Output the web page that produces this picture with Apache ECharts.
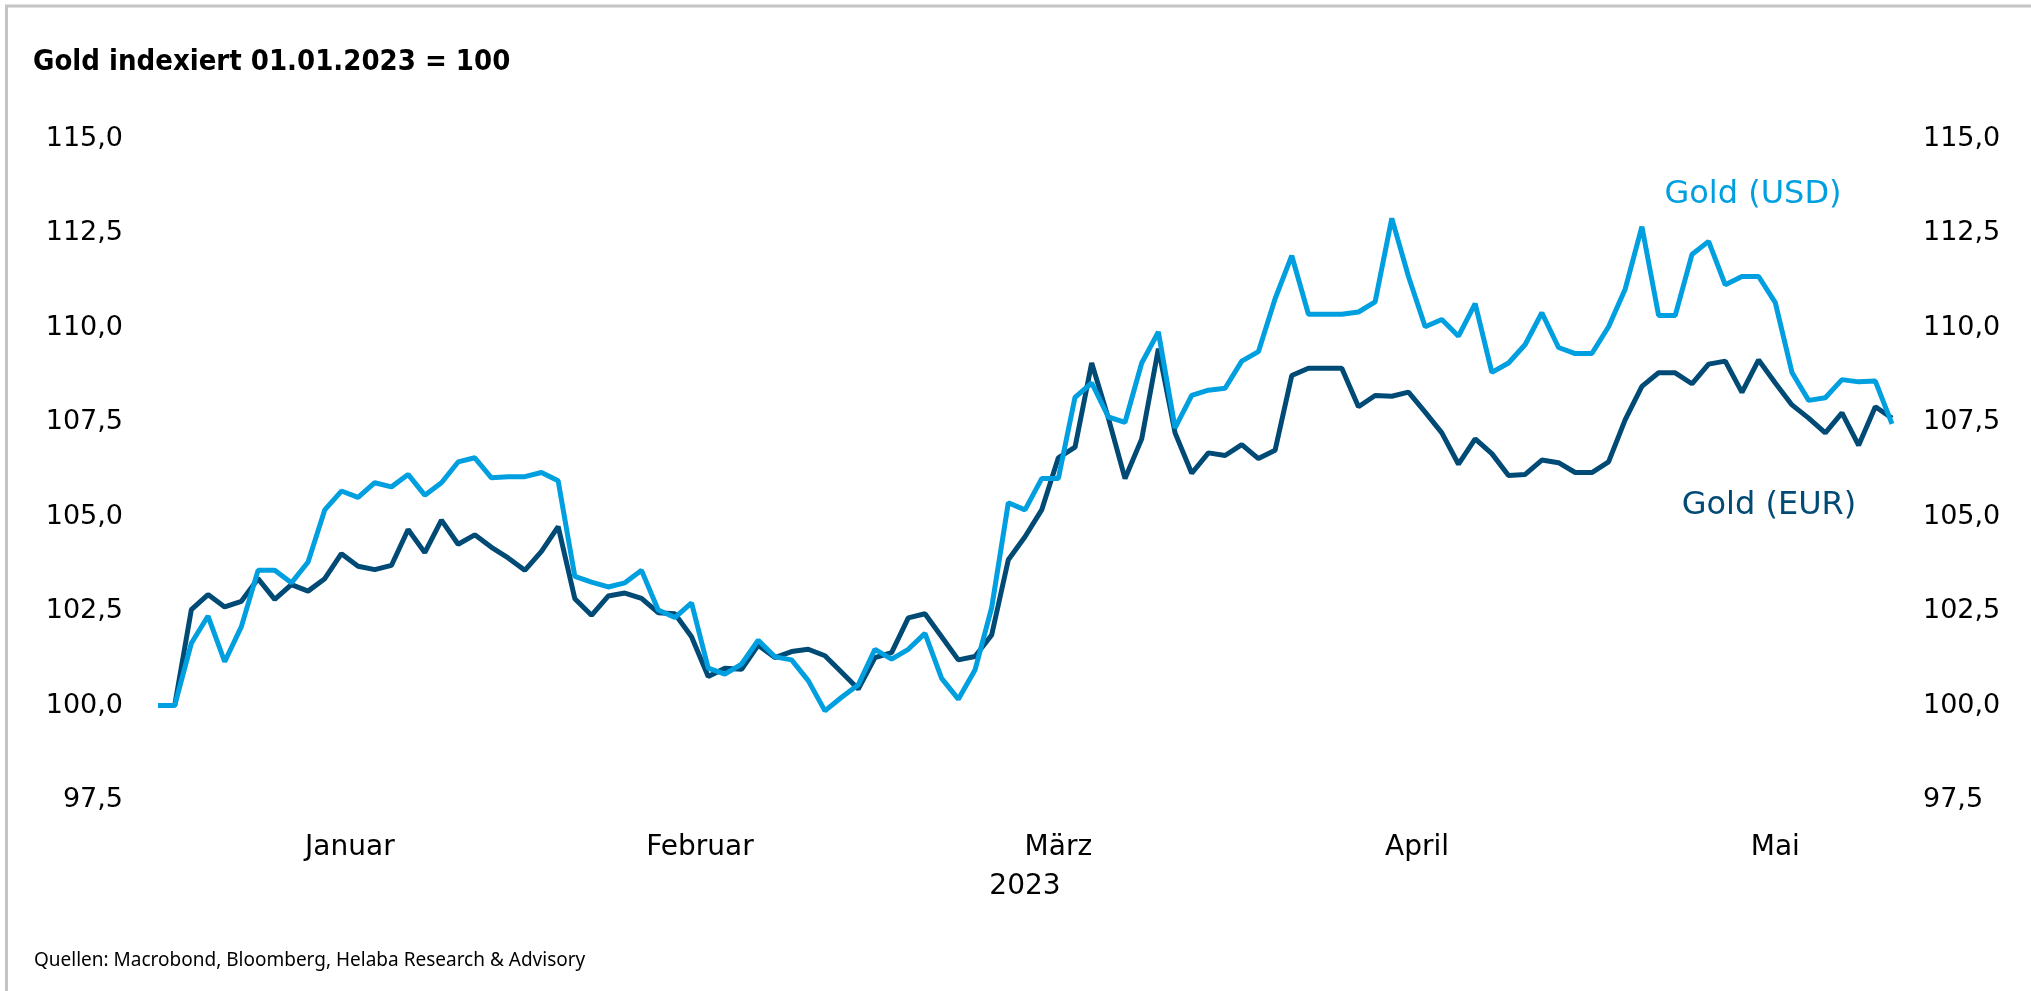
<!DOCTYPE html>
<html>
<head>
<meta charset="utf-8">
<title>Gold indexiert 01.01.2023 = 100</title>
<script src="https://cdn.jsdelivr.net/npm/echarts@6/dist/echarts.min.js"></script>
<style>
html, body { margin: 0; padding: 0; background: #fff; }
#goldchart { width: 2031px; height: 991px; }
</style>
</head>
<body>
<div id="goldchart"></div>
<script>
// Handelstage 30.12.2022 - 25.05.2023
var startDate = '2022-12-30';
var endDate = '2023-05-25';
var monthNames = ['Januar', 'Februar', 'März', 'April', 'Mai'];
var yMin = 97.5;
var yMax = 115;
var yStep = 2.5;

var goldEur = [
  100.0, 100.0, 102.54, 102.94, 102.61, 102.76, 103.36, 102.81, 103.20, 103.03,
  103.36, 104.02, 103.69, 103.60, 103.71, 104.66, 104.05, 104.91, 104.27, 104.52,
  104.19, 103.91, 103.58, 104.08, 104.74, 102.83, 102.39, 102.90, 102.98, 102.84,
  102.46, 102.43, 101.82, 100.77, 100.99, 100.96, 101.60, 101.27, 101.43, 101.49,
  101.32, 100.88, 100.44, 101.27, 101.40, 102.32, 102.43, 101.82, 101.21, 101.30,
  101.87, 103.86, 104.47, 105.18, 106.56, 106.84, 109.07, 107.61, 106.01, 107.06,
  109.45, 107.22, 106.15, 106.69, 106.62, 106.91, 106.54, 106.76, 108.74, 108.93,
  108.93, 108.93, 107.91, 108.21, 108.19, 108.30, 107.77, 107.22, 106.39, 107.06,
  106.67, 106.09, 106.12, 106.50, 106.43, 106.17, 106.17, 106.45, 107.57, 108.45,
  108.81, 108.81, 108.52, 109.04, 109.12, 108.29, 109.15, 108.54, 107.96, 107.61,
  107.22, 107.75, 106.89, 107.91, 107.61
];

var goldUsd = [
  100.0, 100.0, 101.65, 102.37, 101.16, 102.09, 103.58, 103.58, 103.25, 103.80,
  105.18, 105.68, 105.51, 105.90, 105.79, 106.12, 105.57, 105.90, 106.45, 106.56,
  106.03, 106.06, 106.06, 106.17, 105.95, 103.42, 103.27, 103.14, 103.25, 103.58,
  102.53, 102.33, 102.72, 100.99, 100.83, 101.10, 101.73, 101.29, 101.21, 100.66,
  99.86, 100.22, 100.55, 101.49, 101.23, 101.49, 101.91, 100.72, 100.17, 100.94,
  102.59, 105.37, 105.18, 106.01, 106.01, 108.16, 108.54, 107.64, 107.50, 109.07,
  109.89, 107.35, 108.21, 108.35, 108.40, 109.12, 109.37, 110.77, 111.91, 110.36,
  110.36, 110.36, 110.42, 110.69, 112.90, 111.36, 110.03, 110.22, 109.78, 110.64,
  108.82, 109.07, 109.56, 110.40, 109.48, 109.32, 109.32, 110.03, 111.03, 112.68,
  110.33, 110.33, 111.94, 112.29, 111.14, 111.36, 111.36, 110.67, 108.82, 108.08,
  108.15, 108.63, 108.57, 108.59, 107.46
];

function businessDays(from, to) {
  var out = [];
  var d = new Date(from + 'T00:00:00Z');
  var end = new Date(to + 'T00:00:00Z');
  while (d <= end) {
    var wd = d.getUTCDay();
    if (wd !== 0 && wd !== 6) out.push(d.toISOString().slice(0, 10));
    d.setUTCDate(d.getUTCDate() + 1);
  }
  return out;
}

var dates = businessDays(startDate, endDate);
// Monatsnamen mittig über dem ganzen Kalendermonat
var calendar = businessDays(startDate, '2023-05-31');
var monthLabelAt = {};
monthNames.forEach(function (name, m) {
  var key = '2023-' + ('0' + (m + 1)).slice(-2);
  var idx = [];
  calendar.forEach(function (d, i) { if (d.slice(0, 7) === key) idx.push(i); });
  var mid = (idx[0] + idx[idx.length - 1]) / 2;
  monthLabelAt[Math.floor(mid)] = { name: name, half: mid % 1 !== 0 };
});

var labelFont = '"DejaVu Sans", sans-serif';
var fmt = function (v) { return v.toFixed(1).replace('.', ','); };

var chart = echarts.init(document.getElementById('goldchart'));
var option = {
  animation: false,
  backgroundColor: '#fff',
  title: [{
    text: 'Gold indexiert 01.01.2023 = 100',
    left: 28,
    top: 43,
    textStyle: {
      fontFamily: '"DejaVu Sans Condensed", "Liberation Sans Narrow", sans-serif',
      fontWeight: 'bold',
      fontSize: 29,
      color: '#000'
    }
  }, {
    text: 'Quellen: Macrobond, Bloomberg, Helaba Research & Advisory',
    left: 29,
    top: 946,
    textStyle: {
      fontFamily: '"Noto Sans", sans-serif',
      fontWeight: 'normal',
      fontSize: 19,
      color: '#000'
    }
  }],
  grid: {
    left: 158,
    right: 139,
    top: 139,
    bottom: 191
  },
  xAxis: {
    type: 'category',
    data: dates,
    boundaryGap: false,
    axisLine: { show: false },
    axisTick: { show: false },
    splitLine: { show: false },
    axisLabel: {
      margin: 34,
      interval: function (i) { return monthLabelAt[i] !== undefined; },
      formatter: function (v, i) {
        var l = monthLabelAt[i];
        if (!l) return '';
        return l.half ? '{h|' + l.name + '}' : '{n|' + l.name + '}';
      },
      rich: {
        n: { fontSize: 28, fontFamily: labelFont, color: '#000' },
        h: { fontSize: 28, fontFamily: labelFont, color: '#000', padding: [0, 0, 0, 17] }
      }
    },
    name: '2023',
    nameLocation: 'middle',
    nameGap: 73,
    nameTextStyle: { fontSize: 28, fontFamily: labelFont, color: '#000' }
  },
  yAxis: [{
    type: 'value',
    position: 'left',
    min: yMin,
    max: yMax,
    interval: yStep,
    axisLine: { show: false },
    axisTick: { show: false },
    splitLine: { show: false },
    axisLabel: { formatter: fmt, fontSize: 27, fontFamily: labelFont, color: '#000', margin: 35 }
  }, {
    type: 'value',
    position: 'right',
    min: yMin,
    max: yMax,
    interval: yStep,
    axisLine: { show: false },
    axisTick: { show: false },
    splitLine: { show: false },
    axisLabel: { formatter: fmt, fontSize: 27, fontFamily: labelFont, color: '#000', margin: 31 }
  }],
  series: [{
    name: 'Gold (EUR)',
    type: 'line',
    data: goldEur,
    showSymbol: false,
    symbol: 'none',
    lineStyle: { width: 5, color: '#004a76' },
    itemStyle: { color: '#004a76' }
  }, {
    name: 'Gold (USD)',
    type: 'line',
    data: goldUsd,
    showSymbol: false,
    symbol: 'none',
    lineStyle: { width: 5, color: '#009fe0' },
    itemStyle: { color: '#009fe0' }
  }],
  graphic: [{
    type: 'line',
    shape: { x1: 6.5, y1: 5, x2: 6.5, y2: 991 },
    style: { stroke: '#c4c4c4', lineWidth: 3 }
  }, {
    type: 'line',
    shape: { x1: 5, y1: 6, x2: 2031, y2: 6 },
    style: { stroke: '#c4c4c4', lineWidth: 3 }
  }, {
    type: 'text',
    x: 1753,
    y: 195,
    style: {
      text: 'Gold (USD)',
      font: 'normal 32px "DejaVu Sans", sans-serif',
      fill: '#009fe0',
      textAlign: 'center',
      textVerticalAlign: 'middle',
      align: 'center',
      verticalAlign: 'middle'
    }
  }, {
    type: 'text',
    x: 1769,
    y: 506,
    style: {
      text: 'Gold (EUR)',
      font: 'normal 32px "DejaVu Sans", sans-serif',
      fill: '#004a76',
      textAlign: 'center',
      textVerticalAlign: 'middle',
      align: 'center',
      verticalAlign: 'middle'
    }
  }]
};
chart.setOption(option);
window.addEventListener('resize', function () {
  chart.resize();
});
</script>
</body>
</html>
